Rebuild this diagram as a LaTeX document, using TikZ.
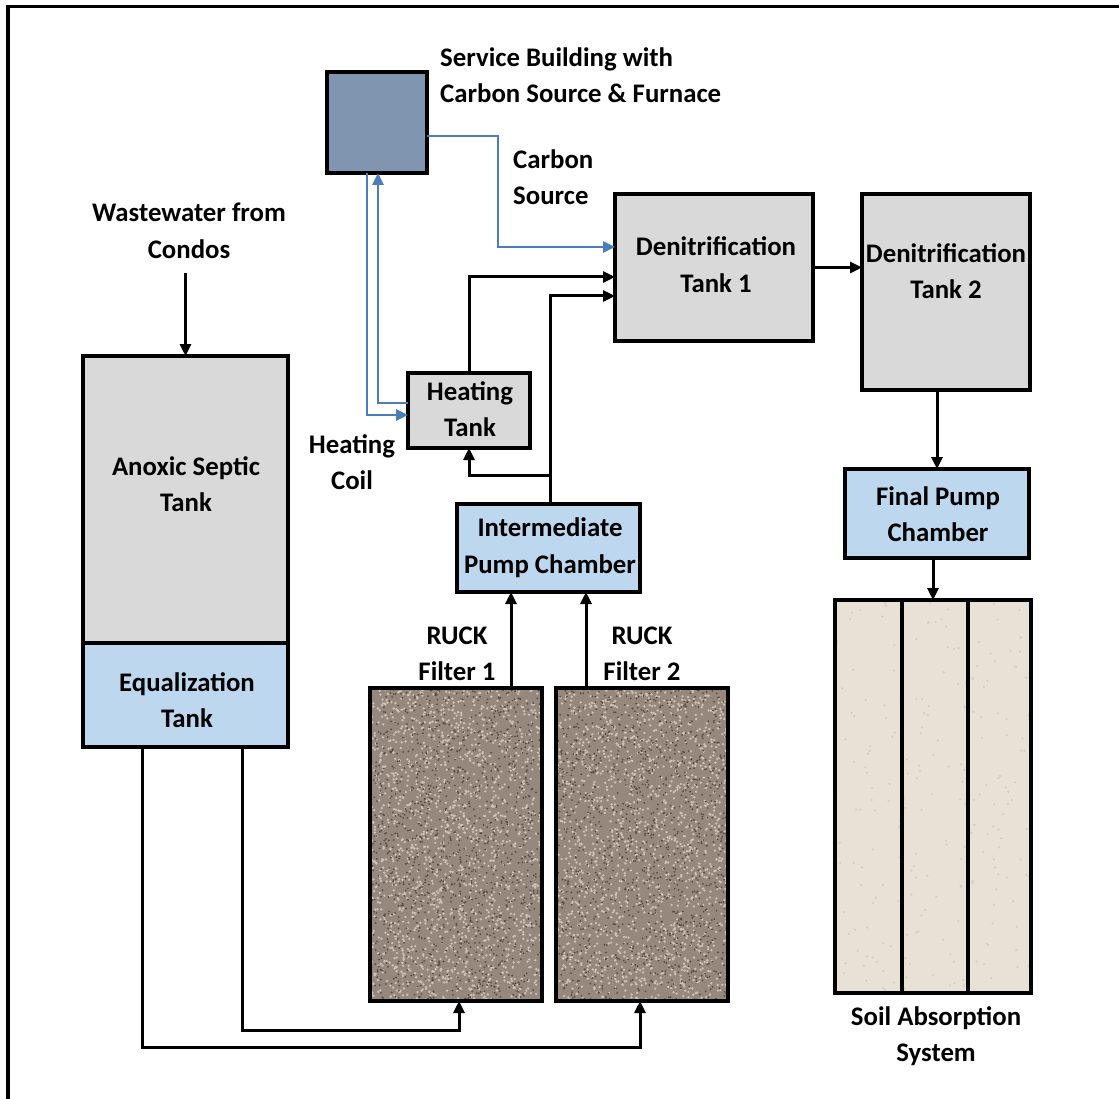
\documentclass[tikz,border=0pt]{standalone}
\usepackage{fontspec}
\setmainfont{Carlito}
\usetikzlibrary{arrows.meta,calc}
\definecolor{boxgray}{RGB}{217,217,217}
\definecolor{boxblue}{RGB}{189,215,238}
\definecolor{svcblue}{RGB}{128,150,176}
\definecolor{pipeblue}{RGB}{74,126,187}
\definecolor{gravel}{RGB}{150,136,124}
\definecolor{gravellight}{RGB}{205,195,183}
\definecolor{graveldark}{RGB}{90,76,66}
\definecolor{soil}{RGB}{232,225,214}
\definecolor{soildot}{RGB}{215,206,194}
\begin{document}
\begin{tikzpicture}[x=1pt,y=-1pt,
  lbl/.style={font=\fontsize{26.8}{36.5}\selectfont\bfseries, align=center, inner sep=0pt},
  tank/.style={draw=black, line width=3.2pt, inner sep=0pt, outer sep=0pt},
  arr/.style={line width=3pt, -{Triangle[length=12pt,width=11pt]}},
  barr/.style={draw=pipeblue, line width=2.8pt, -{Triangle[length=12pt,width=11pt]}}]
\useasboundingbox (0,0) rectangle (1119,1099);
\draw[line width=3.2pt] (8,1099) -- (8,6.5) -- (1119,6.5);

% boxes
\node[tank, fill=svcblue, minimum width=100pt, minimum height=101pt] (svc) at (377,122.5) {};
\node[tank, fill=boxgray, minimum width=198pt, minimum height=147pt] (den1) at (714,267.5) {};
\node[tank, fill=boxgray, minimum width=168pt, minimum height=196pt] (den2) at (946,292) {};
\node[tank, fill=boxgray, minimum width=205pt, minimum height=287pt] (anox) at (185.5,499.5) {};
\node[tank, fill=boxblue, minimum width=205pt, minimum height=104pt] (eq) at (185.5,695) {};
\node[tank, fill=boxgray, minimum width=122pt, minimum height=75pt] (heat) at (469,410.5) {};
\node[tank, fill=boxblue, minimum width=183pt, minimum height=88pt] (ipc) at (548.5,548) {};
\node[tank, fill=boxblue, minimum width=184pt, minimum height=89pt] (fpc) at (937,513.5) {};

% filters with gravel texture
\node[tank, fill=gravel, minimum width=172pt, minimum height=313pt] (f1) at (456,844.5) {};
\node[tank, fill=gravel, minimum width=172pt, minimum height=313pt] (f2) at (642,844.5) {};
\pgfmathsetseed{7}
\foreach \cx in {456,642}{
  \begin{scope}
    \clip (\cx-84.5,689.5) rectangle (\cx+84.5,999.5);
    \foreach \i in {1,...,1700}{
      \pgfmathsetmacro\px{\cx-86+172*rnd}
      \pgfmathsetmacro\py{688+313*rnd}
      \fill[gravellight] (\px,\py) circle (1.3pt);
    }
    \foreach \i in {1,...,1300}{
      \pgfmathsetmacro\px{\cx-86+172*rnd}
      \pgfmathsetmacro\py{688+313*rnd}
      \fill[graveldark] (\px,\py) circle (1.0pt);
    }
  \end{scope}
  \draw[line width=3.2pt] (\cx-86,688) rectangle (\cx+86,1001);
}

% soil absorption system
\node[tank, fill=soil, minimum width=196pt, minimum height=393pt] (soil) at (933,796.5) {};
\begin{scope}
  \clip (836.5,601.5) rectangle (1029.5,991.5);
  \foreach \i in {1,...,220}{
    \pgfmathsetmacro\px{835+196*rnd}
    \pgfmathsetmacro\py{600+393*rnd}
    \fill[soildot] (\px,\py) circle (1.3pt);
  }
\end{scope}
\draw[line width=3.2pt] (835,600) rectangle (1031,993);
\draw[line width=3.2pt] (902,600) -- (902,993);
\draw[line width=3.2pt] (968,600) -- (968,993);

% box texts
\node[lbl] at (716,264.5) {Denitrification\\Tank 1};
\node[lbl] at (946,271) {Denitrification\\Tank 2};
\node[lbl] at (186,484) {Anoxic Septic\\Tank};
\node[lbl] at (187,700) {Equalization\\Tank};
\node[lbl] at (470,409) {Heating\\Tank};
\node[lbl] at (550,547.5) {Intermediate\\Pump Chamber};
\node[lbl] at (938,514) {Final Pump\\Chamber};

% free labels
\node[lbl] (ww) at (189,231) {Wastewater from\\Condos};
\node[lbl, anchor=west, align=left] (svctxt) at (440,75) {Service Building with\\Carbon Source \& Furnace};
\node[lbl, anchor=west, align=left] (cstxt) at (513,177) {Carbon\\Source};
\node[lbl] (hctxt) at (352,462) {Heating\\Coil};
\node[lbl] (r1txt) at (457,654) {RUCK\\Filter 1};
\node[lbl] (r2txt) at (642,654) {RUCK\\Filter 2};
\node[lbl] (soiltxt) at (936,1036) {Soil Absorption\\System};

% connectors (black)
\coordinate (wwend) at (185.5,273);
\draw[arr] (wwend) -- (anox.north);
\draw[arr] (den1.east) -- (den1.east -| den2.west);
\draw[arr] (fpc.north |- den2.south) -- (fpc.north);
\draw[arr] ([xshift=-4pt]fpc.south) -- ([xshift=-4pt]fpc.south |- soil.north);
\draw[arr] (heat.north) |- ([yshift=-9.5pt]den1.west);
\draw[arr] ([xshift=1.5pt]ipc.north) |- ([yshift=-28.5pt]den1.west);
\coordinate (junc) at (550,475);
\draw[arr] (junc) -| (heat.south);
\draw[arr] ([xshift=55pt]f1.north) -- ([xshift=55pt]f1.north |- ipc.south);
\draw[arr] ([xshift=-56pt]f2.north) -- ([xshift=-56pt]f2.north |- ipc.south);
\draw[arr] ([xshift=56.5pt]eq.south) |- ($([xshift=3pt]f1.south)+(0,29)$) -- ([xshift=3pt]f1.south);
\draw[arr] ([xshift=-43.5pt]eq.south) |- ($([xshift=-2pt]f2.south)+(0,46)$) -- ([xshift=-2pt]f2.south);

% connectors (blue)
\draw[barr] ([yshift=-13.5pt]svc.east) -| (498,200) |- ([yshift=20.5pt]den1.west);
\draw[barr] ([xshift=-10pt]svc.south) |- ([yshift=-4.5pt]heat.west);
\draw[barr] ([yshift=7.5pt]heat.west) -| ([xshift=1pt]svc.south);
\end{tikzpicture}
\end{document}
